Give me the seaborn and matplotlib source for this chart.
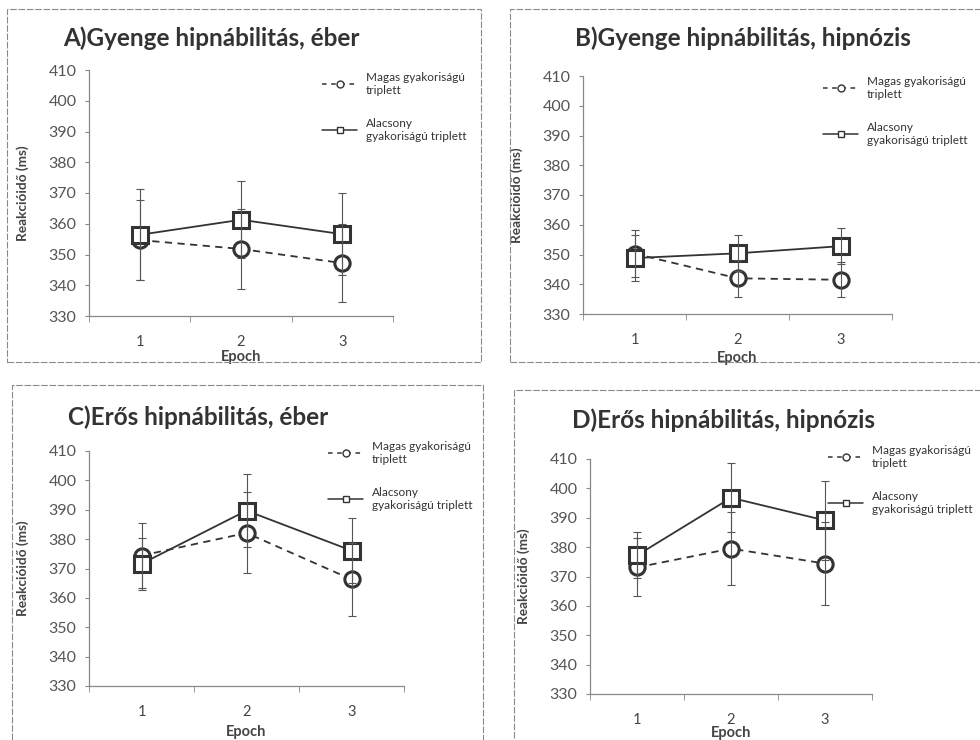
import pandas as pd
import seaborn as sns
import matplotlib
matplotlib.use('Agg')
import matplotlib.pyplot as plt
from matplotlib.lines import Line2D
from matplotlib.patches import Rectangle

sns.set_style('white')
plt.rcParams['font.family'] = ['Lato', 'DejaVu Sans']

epochs = [1, 2, 3]
series_names = ['Magas gyakoriságú\ntriplett', 'Alacsony\ngyakoriságú triplett']

titles = ['A)Gyenge hipnábilitás, éber', 'B)Gyenge hipnábilitás, hipnózis',
          'C)Erős hipnábilitás, éber', 'D)Erős hipnábilitás, hipnózis']

a_magas = [354.7, 351.8, 347.2]
a_magas_err = [13.0, 13.0, 12.8]
a_alacsony = [356.4, 361.3, 356.6]
a_alacsony_err = [14.8, 12.6, 13.3]

b_magas = [350.3, 342.0, 341.5]
b_magas_err = [7.8, 6.2, 5.9]
b_alacsony = [348.8, 350.4, 352.8]
b_alacsony_err = [7.6, 6.1, 6.0]

c_magas = [374.4, 382.1, 366.3]
c_magas_err = [11.2, 13.8, 12.4]
c_alacsony = [371.6, 389.7, 376.1]
c_alacsony_err = [8.8, 12.5, 11.2]

d_magas = [373.1, 379.5, 374.4]
d_magas_err = [9.9, 12.3, 14.0]
d_alacsony = [377.2, 396.8, 389.1]
d_alacsony_err = [7.8, 11.8, 13.5]

panels = [
    (a_magas, a_magas_err, a_alacsony, a_alacsony_err),
    (b_magas, b_magas_err, b_alacsony, b_alacsony_err),
    (c_magas, c_magas_err, c_alacsony, c_alacsony_err),
    (d_magas, d_magas_err, d_alacsony, d_alacsony_err),
]

W, H = 980, 740
LINE = '#333333'
GREY = '#555555'

# layout in pixels: axes box (left, top, right, bottom), title pos, legend pos, xlabel offset, border box
layout = [
    dict(ax=(89, 70, 393, 316), title=(63, 38), leg=(322, 72), xlab=34, box=(7, 9, 481, 362)),
    dict(ax=(583, 76, 892, 314), title=(575, 38), leg=(823, 76), xlab=37, box=(510, 9, 985, 362)),
    dict(ax=(89, 451, 404, 686), title=(68, 417), leg=(328, 441), xlab=39, box=(12, 385, 483, 745)),
    dict(ax=(590, 459, 872, 694), title=(572, 420), leg=(828, 445), xlab=32, box=(514, 390, 985, 745)),
]

fig = plt.figure(figsize=(9.8, 7.4), dpi=100)

for (magas, magas_err, alacsony, alacsony_err), title, lay in zip(panels, titles, layout):
    l, t, r, b = lay['ax']
    ax = fig.add_axes([l / W, 1 - b / H, (r - l) / W, (b - t) / H])

    bl, bt, br, bb = lay['box']
    fig.patches.append(Rectangle((bl / W, 1 - bb / H), (br - bl) / W, (bb - bt) / H,
                                 transform=fig.transFigure, fill=False,
                                 edgecolor='#8a8a8a', linewidth=0.8, linestyle=(0, (6, 1.5))))

    df = pd.DataFrame({
        'Epoch': epochs * 2,
        'RT': magas + alacsony,
        'Triplett': ['Magas'] * 3 + ['Alacsony'] * 3,
    })
    sns.lineplot(data=df, x='Epoch', y='RT', style='Triplett',
                 markers={'Magas': 'o', 'Alacsony': 's'},
                 dashes={'Magas': (4, 3), 'Alacsony': ''},
                 color=LINE, linewidth=1.3, markersize=11,
                 markerfacecolor='white', markeredgecolor=LINE, markeredgewidth=2.2,
                 legend=False, ax=ax, zorder=2)
    ax.errorbar(epochs, magas, yerr=magas_err, fmt='none', ecolor=GREY,
                elinewidth=0.8, capsize=3, capthick=0.8, zorder=3)
    ax.errorbar(epochs, alacsony, yerr=alacsony_err, fmt='none', ecolor=GREY,
                elinewidth=0.8, capsize=3, capthick=0.8, zorder=3)

    ax.set_xlim(0.5, 3.5)
    ax.set_ylim(330, 410)
    ax.set_yticks(range(330, 411, 10))
    ax.set_xticks(epochs)
    ax.set_xticks([0.5, 1.5, 2.5, 3.5], minor=True)
    ax.tick_params(axis='x', which='major', length=0, pad=14, labelsize=10.5, labelcolor='#444444')
    ax.tick_params(axis='x', which='minor', length=4, direction='out', color='#888888', bottom=True)
    ax.tick_params(axis='y', length=3, direction='out', color='#888888', left=True,
                   pad=6, labelsize=11.5, labelcolor='#555555')
    for side in ['top', 'right']:
        ax.spines[side].set_visible(False)
    for side in ['left', 'bottom']:
        ax.spines[side].set_color('#888888')
        ax.spines[side].set_linewidth(0.9)

    ax.set_xlabel('Epoch', fontsize=10.5, fontweight='bold', color='#444444')
    ax.xaxis.set_label_coords(0.5, -lay['xlab'] / (b - t))
    ax.set_ylabel('Reakcióidő (ms)', fontsize=9.8, fontweight='bold', color='#444444')
    ax.yaxis.set_label_coords(-60 / (r - l), 0.5)

    tx, ty = lay['title']
    fig.text(tx / W, 1 - ty / H, title, ha='left', va='center', fontsize=17.5,
             fontweight='bold', color='#333333')

    handles = [
        Line2D([], [], color=LINE, linestyle=(0, (3, 3)), linewidth=1.1, marker='o',
               markersize=5, markerfacecolor='white', markeredgecolor=LINE),
        Line2D([], [], color=LINE, linestyle='-', linewidth=1.1, marker='s',
               markersize=5, markerfacecolor='white', markeredgecolor=LINE),
    ]
    lx, ly = lay['leg']
    ax.legend(handles, series_names, loc='upper left',
              bbox_to_anchor=(lx / W, 1 - ly / H), bbox_transform=fig.transFigure,
              frameon=False, fontsize=8.5, labelcolor='#333333', handlelength=3.0,
              handletextpad=0.7, labelspacing=1.9, borderpad=0, borderaxespad=0)

fig.savefig('out.png', dpi=100, facecolor='white')
